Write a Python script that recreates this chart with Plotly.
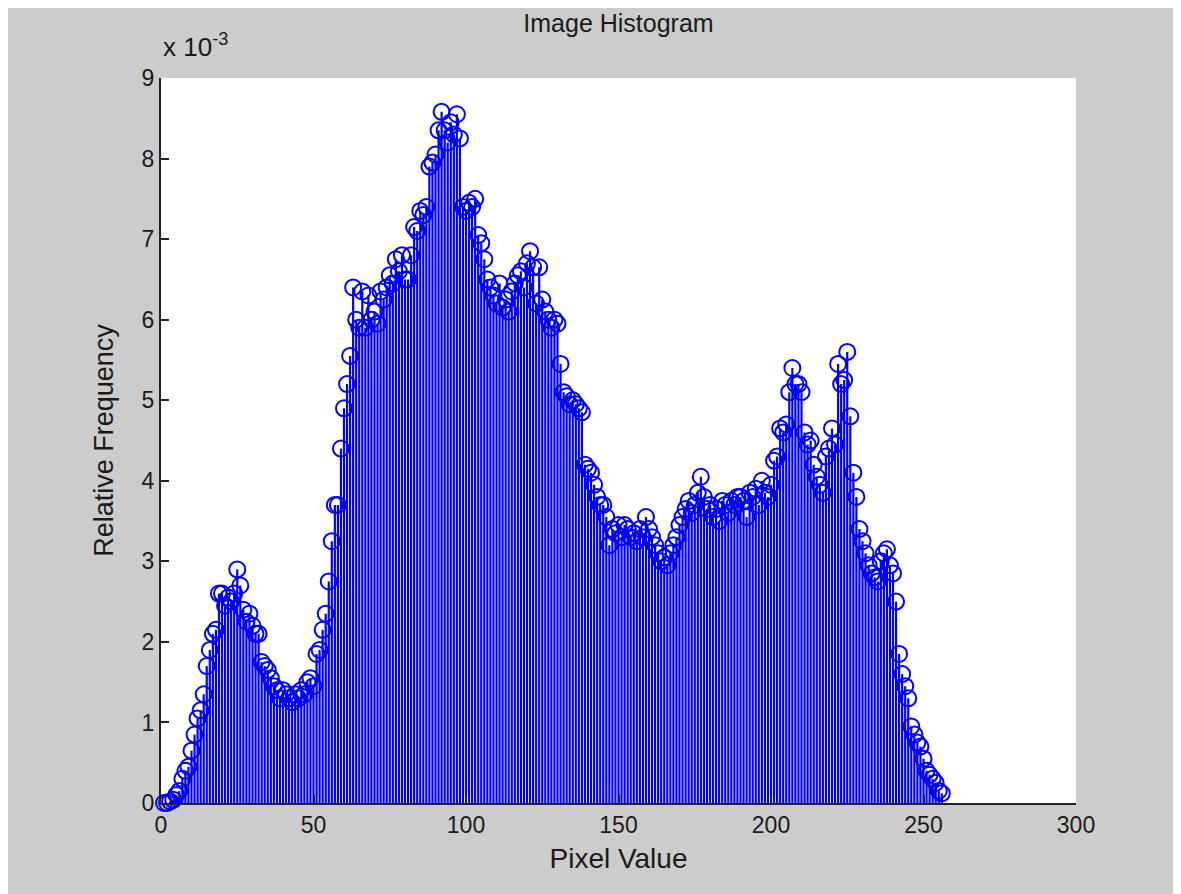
import plotly.graph_objects as go

# Pixel values (1..256)
pixel_values = list(range(1, 257))

# Relative frequency, in units of 10^-3
rel_freq_e3 = [
    0.00, 0.00, 0.02, 0.04, 0.10, 0.15, 0.30, 0.40, 0.45, 0.65,
    0.85, 1.05, 1.15, 1.35, 1.70, 1.90, 2.10, 2.15, 2.60, 2.60,
    2.45, 2.55, 2.50, 2.60, 2.90, 2.70, 2.40, 2.25, 2.35, 2.20,
    2.10, 2.10, 1.75, 1.70, 1.65, 1.55, 1.45, 1.40, 1.30, 1.40,
    1.35, 1.30, 1.25, 1.35, 1.30, 1.40, 1.35, 1.50, 1.55, 1.45,
    1.85, 1.90, 2.15, 2.35, 2.75, 3.25, 3.70, 3.70, 4.40, 4.90,
    5.20, 5.55, 6.40, 6.00, 5.90, 6.35, 5.90, 6.30, 6.00, 6.10,
    5.95, 6.35, 6.25, 6.40, 6.55, 6.45, 6.75, 6.60, 6.80, 6.50,
    6.50, 6.80, 7.15, 7.10, 7.35, 7.30, 7.40, 7.90, 7.95, 8.05,
    8.35, 8.58, 8.35, 8.20, 8.45, 8.30, 8.55, 8.25, 7.40, 7.35,
    7.45, 7.40, 7.50, 7.05, 6.95, 6.75, 6.50, 6.40, 6.30, 6.20,
    6.45, 6.15, 6.25, 6.10, 6.35, 6.45, 6.55, 6.60, 6.40, 6.70,
    6.85, 6.65, 6.20, 6.65, 6.25, 6.10, 6.00, 5.90, 6.00, 5.95,
    5.45, 5.10, 5.05, 4.95, 5.00, 4.95, 4.90, 4.85, 4.20, 4.15,
    4.10, 3.95, 3.80, 3.70, 3.70, 3.55, 3.20, 3.40, 3.35, 3.45,
    3.30, 3.45, 3.40, 3.30, 3.35, 3.25, 3.40, 3.30, 3.55, 3.40,
    3.30, 3.20, 3.10, 3.00, 3.05, 2.95, 3.10, 3.20, 3.30, 3.45,
    3.55, 3.65, 3.75, 3.60, 3.70, 3.85, 4.05, 3.80, 3.65, 3.70,
    3.55, 3.65, 3.50, 3.75, 3.70, 3.60, 3.75, 3.70, 3.80, 3.80,
    3.75, 3.55, 3.85, 3.80, 3.90, 3.70, 4.00, 3.85, 3.80, 3.95,
    4.25, 4.30, 4.65, 4.60, 4.70, 5.10, 5.40, 5.20, 5.20, 5.10,
    4.60, 4.45, 4.50, 4.20, 4.05, 3.95, 3.85, 4.30, 4.40, 4.65,
    4.45, 5.45, 5.20, 5.25, 5.60, 4.80, 4.10, 3.80, 3.40, 3.25,
    3.10, 2.95, 2.85, 2.80, 2.75, 3.00, 3.10, 3.15, 2.95, 2.85,
    2.50, 1.85, 1.60, 1.45, 1.30, 0.95, 0.85, 0.75, 0.70, 0.55,
    0.40, 0.35, 0.30, 0.25, 0.15, 0.12,
]

x_ticks = [0, 50, 100, 150, 200, 250, 300]
y_ticks = [0, 1, 2, 3, 4, 5, 6, 7, 8, 9]

# the page puts the figure 8px in from the top-left corner
W, H = 1173, 886
L, R, T, B = 153, 105, 70, 91

FONT = "Liberation Sans, Arial, sans-serif"
TXT = "#1a1a1a"
BLUE = "#0000ff"

fig = go.Figure()
fig.add_trace(go.Scatter(
    x=pixel_values,
    y=rel_freq_e3,
    mode="markers",
    marker=dict(symbol="circle-open", size=16, color=BLUE,
                line=dict(width=2, color=BLUE)),
    error_y=dict(type="data", symmetric=False,
                 array=[0] * len(rel_freq_e3), arrayminus=rel_freq_e3,
                 width=0, thickness=2.2, color=BLUE),
    cliponaxis=False,
    showlegend=False,
))

axis_common = dict(
    showgrid=False, zeroline=False, showline=True, linecolor="#222222",
    linewidth=2, ticks="inside", ticklen=8, tickwidth=2, tickcolor="#222222",
    tickfont=dict(family=FONT, size=23, color=TXT), mirror=False,
)

fig.update_layout(
    width=W, height=H,
    margin=dict(l=L, r=R, t=T, b=B, autoexpand=False),
    paper_bgcolor="#cccccc",
    plot_bgcolor="#ffffff",
    title=dict(text="Image Histogram", x=(L + (W - L - R) / 2) / W, xanchor="center",
               y=1 - 15 / H, yanchor="middle", yref="container", xref="container",
               font=dict(family=FONT, size=25, color=TXT)),
    xaxis=dict(range=[0, 300], tickvals=x_ticks,
               title=dict(text="Pixel Value", standoff=12,
                          font=dict(family=FONT, size=28, color=TXT)),
               **axis_common),
    yaxis=dict(range=[0, 9], tickvals=y_ticks,
               ticktext=[str(v) for v in y_ticks],
               title=dict(text="Relative Frequency", standoff=20,
                          font=dict(family=FONT, size=27, color=TXT)),
               **axis_common),
    annotations=[dict(text="x 10<sup>-3</sup>", xref="paper", yref="paper",
                      x=0, y=1, xanchor="left", yanchor="bottom",
                      xshift=0, yshift=14, showarrow=False,
                      font=dict(family=FONT, size=26, color=TXT))],
)

fig.write_html("out.html")
